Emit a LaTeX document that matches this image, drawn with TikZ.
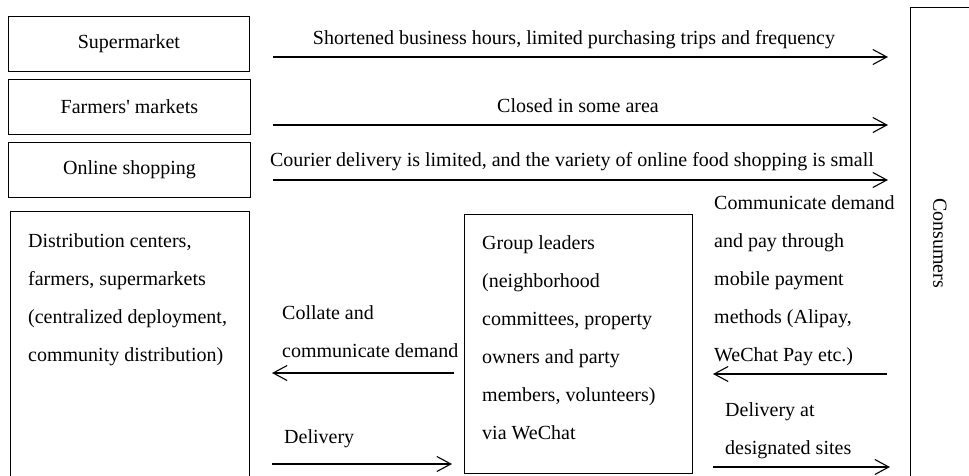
\documentclass[tikz,border=0pt]{standalone}
\usepackage{fontspec}
\setmainfont{Liberation Serif}
\usetikzlibrary{arrows.meta}
% left-aligned block of lines whose baseline is the first line
\newcommand{\stacklines}[1]{\begin{tabular}[t]{@{}l@{}}#1\end{tabular}}
\begin{document}
\begin{tikzpicture}[x=1pt,y=-1pt,
  box/.style={draw, line width=0.9pt, rectangle, inner sep=0, anchor=north west,
    font=\fontsize{20}{38}\selectfont},
  lbl/.style={inner sep=0, anchor=base, font=\fontsize{20}{38}\selectfont},
  para/.style={inner sep=0, anchor=base west, font=\fontsize{20}{38}\selectfont},
  flow/.style={line width=1.1pt, -{Straight Barb[length=14pt,width=15pt,line width=1.1pt]}}]

\useasboundingbox (0,0) rectangle (969,476);
\clip (0,0) rectangle (969,476);

% channel boxes on the left
\node[box, minimum width=241pt, minimum height=55pt] (sup) at (8,16) {Supermarket};
\node[box, minimum width=242pt, minimum height=55pt] (farm) at (8,79) {Farmers\textquotesingle{} markets};
\node[box, minimum width=242pt, minimum height=55pt] (online) at (8,142) {Online shopping};

% lower boxes
\node[box, minimum width=239pt, minimum height=280pt] (dist) at (10,211) {};
\node[box, minimum width=228pt, minimum height=259pt] (grp) at (464,214) {};
\node[box, minimum width=80pt, minimum height=490pt] (cons) at (910,7) {};
\node[rotate=-90, inner sep=0, font=\fontsize{20}{38}\selectfont] (constxt) at (940,243) {Consumers};

% texts inside the lower boxes
\node[para] (disttxt) at (28,247) {\stacklines{Distribution centers,\\farmers, supermarkets\\(centralized deployment,\\community distribution)}};
\node[para] (grptxt) at (482,249) {\stacklines{Group leaders\\(neighborhood\\committees, property\\owners and party\\members, volunteers)\\via WeChat}};

% top arrows with their captions
\coordinate (a1s) at (273,57);  \coordinate (a1e) at (888,57);
\coordinate (a2s) at (273,125); \coordinate (a2e) at (888,125);
\coordinate (a3s) at (273,180); \coordinate (a3e) at (888,180);
\draw[flow] (a1s) -- (a1e);
\draw[flow] (a2s) -- (a2e);
\draw[flow] (a3s) -- (a3e);
\node[lbl] (t1) at (574,45) {Shortened business hours, limited purchasing trips and frequency};
\node[lbl] (t2) at (578,113) {Closed in some area};
\node[lbl] (t3) at (572,167) {Courier delivery is limited, and the variety of online food shopping is small};

% flows between distribution and group leaders
\coordinate (b1s) at (454,373); \coordinate (b1e) at (272,373);
\coordinate (b2s) at (272,464); \coordinate (b2e) at (452,464);
\draw[flow] (b1s) -- (b1e);
\draw[flow] (b2s) -- (b2e);
\node[para] (coll) at (282,319) {\stacklines{Collate and\\communicate demand}};
\node[para] (deliv) at (284,443) {Delivery};

% flows between group leaders and consumers
\coordinate (c1s) at (887,374); \coordinate (c1e) at (713,374);
\coordinate (c2s) at (713,467); \coordinate (c2e) at (890,467);
\draw[flow] (c1s) -- (c1e);
\draw[flow] (c2s) -- (c2e);
\node[para] (comm) at (714,209) {\stacklines{Communicate demand\\and pay through\\mobile payment\\methods (Alipay,\\WeChat Pay etc.)}};
\node[para] (site) at (725,416) {\stacklines{Delivery at\\designated sites}};
\end{tikzpicture}
\end{document}
